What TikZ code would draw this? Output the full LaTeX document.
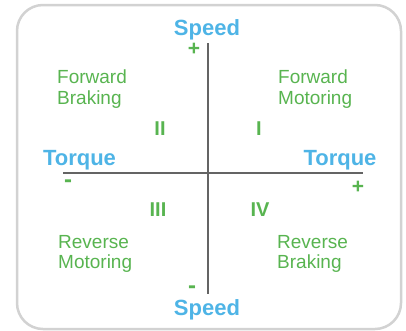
\documentclass[tikz,border=0pt]{standalone}
\usepackage{fontspec}
\setmainfont{Liberation Sans}
\definecolor{sblue}{RGB}{78,180,230}
\definecolor{sgreen}{RGB}{88,180,80}
\definecolor{axisgray}{RGB}{100,100,100}
\definecolor{framegray}{RGB}{210,210,210}
\begin{document}
\begin{tikzpicture}[x=1pt,y=-1pt,
  axislabel/.style={text=sblue,font=\fontsize{22}{26}\selectfont\bfseries,inner sep=0pt,anchor=base},
  quadlabel/.style={text=sgreen,font=\fontsize{19}{21}\selectfont,inner sep=0pt,anchor=base west},
  numeral/.style={text=sgreen,font=\fontsize{20}{24}\selectfont\bfseries,inner sep=0pt,anchor=base},
  sign/.style={text=sgreen,font=\fontsize{21}{24}\selectfont\bfseries,inner sep=0pt,anchor=center},
  minussign/.style={text=sgreen,font=\fontsize{24}{28}\selectfont\bfseries,inner sep=0pt,anchor=center},
  axisline/.style={draw=axisgray,line width=2pt}]
\useasboundingbox (0,0) rectangle (406,330);
\draw[framegray,line width=2.5pt,rounded corners=26pt] (17,5) rectangle (401,329);
% axes
\coordinate (vtop) at (208,43);
\coordinate (vbot) at (208,294);
\coordinate (hleft) at (63,173);
\coordinate (hright) at (363,173);
\draw[axisline] (vtop) -- (vbot);
\draw[axisline] (hleft) -- (hright);
% axis labels
\node[axislabel] (speedtop) at (207,35) {Speed};
\node[axislabel] (speedbot) at (207,315) {Speed};
\node[axislabel] (torqueleft) at (79.5,165) {Torque};
\node[axislabel] (torqueright) at (340,165) {Torque};
% signs
\node[sign] (ptop) at (194,49) {+};
\node[minussign] (mleft) at (68,184) {-};
\node[sign] (pright) at (358,187) {+};
\node[minussign] (mbot) at (192,290) {-};
% numerals
\node[numeral] (q2) at (160,135) {II};
\node[numeral] (q1) at (259,135) {I};
\node[numeral] (q3) at (158,216) {III};
\node[numeral] (q4) at (260,216) {IV};
% quadrant labels
\node[quadlabel] (fb1) at (57,83) {Forward};
\node[quadlabel] (fb2) at (57,104) {Braking};
\node[quadlabel] (fm1) at (278,83) {Forward};
\node[quadlabel] (fm2) at (278,104) {Motoring};
\node[quadlabel] (rm1) at (58,248) {Reverse};
\node[quadlabel] (rm2) at (58,268) {Motoring};
\node[quadlabel] (rb1) at (277,248) {Reverse};
\node[quadlabel] (rb2) at (277,268) {Braking};
\end{tikzpicture}
\end{document}
